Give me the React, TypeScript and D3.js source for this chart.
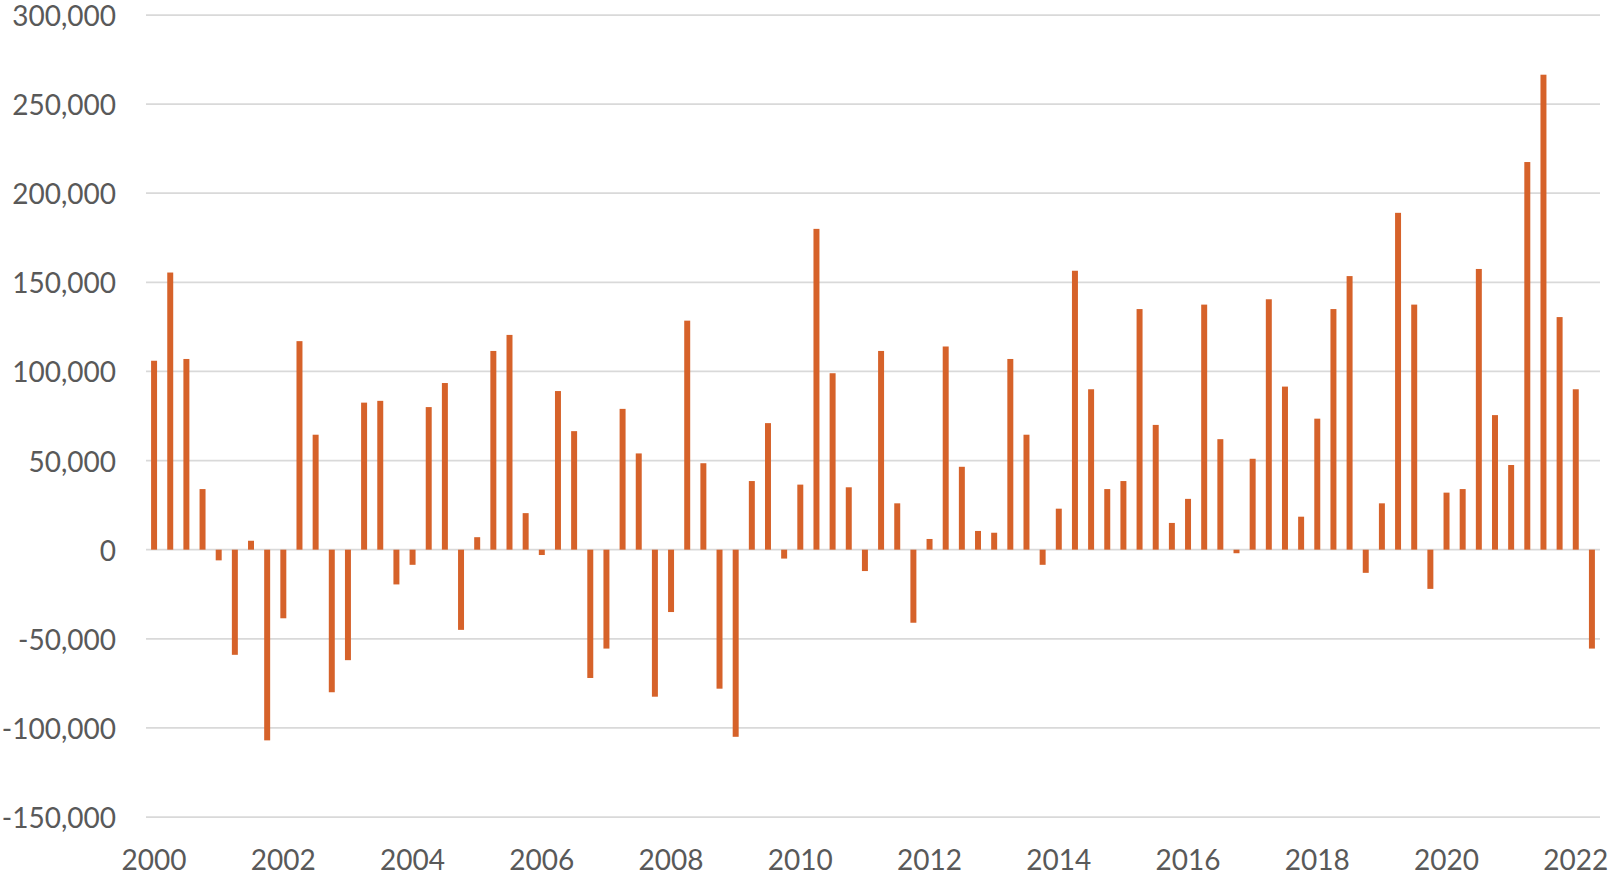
import React from "react";
import * as d3 from "d3";

// Quarterly values, 2000 Q1 – 2022 Q2
const years: number[] = d3.range(2000, 2023);
const quarters: string[] = years.flatMap((y) => [1, 2, 3, 4].map((q) => `${y} Q${q}`)).slice(0, 90);

const values: number[] = [
  106000, 155500, 107000, 34000, -6000, -59000, 5000, -107000,
  -38500, 117000, 64500, -80000, -62000, 82500, 83500, -19500,
  -8500, 80000, 93500, -45000, 7000, 111500, 120500, 20500,
  -3000, 89000, 66500, -72000, -55500, 79000, 54000, -82500,
  -35000, 128500, 48500, -78000, -105000, 38500, 71000, -5000,
  36500, 180000, 99000, 35000, -12000, 111500, 26000, -41000,
  6000, 114000, 46500, 10500, 9500, 107000, 64500, -8500,
  23000, 156500, 90000, 34000, 38500, 135000, 70000, 15000,
  28500, 137500, 62000, -2000, 51000, 140500, 91500, 18500,
  73500, 135000, 153500, -13000, 26000, 189000, 137500, -22000,
  32000, 34000, 157500, 75500, 47500, 217500, 266500, 130500,
  90000, -55500,
];

const yTicks: number[] = [-150000, -100000, -50000, 0, 50000, 100000, 150000, 200000, 250000, 300000];
const xTickLabels: string[] = ["2000", "2002", "2004", "2006", "2008", "2010", "2012", "2014", "2016", "2018", "2020", "2022"];

const W = 1614;
const H = 879;
const left = 146;
const right = 1600;
const top = 15;
const bottom = 817;

export default function App() {
  const x = d3
    .scaleBand<string>()
    .domain(quarters)
    .range([left, right])
    .paddingInner(0.63)
    .paddingOuter(0.315);
  const y = d3.scaleLinear().domain([-150000, 300000]).range([bottom, top]);
  const fmt = d3.formatLocale({ decimal: ".", thousands: ",", grouping: [3], currency: ["", ""], minus: "-" }).format(",");
  const textColor = "#595959";
  const font = "Lato, 'Open Sans', sans-serif";

  return (
    <svg
      width={W}
      height={H}
      style={{ position: "absolute", left: 0, top: 0, display: "block", background: "#fff" }}
    >
      {yTicks.map((t) => (
        <g key={t}>
          <line x1={left} x2={right} y1={y(t)} y2={y(t)} stroke="#D9D9D9" strokeWidth={1.75} />
          <text
            x={116}
            y={y(t)}
            textAnchor="end"
            dominantBaseline="central"
            fontFamily={font}
            fontSize={28}
            fill={textColor}
          >
            {fmt(t)}
          </text>
        </g>
      ))}
      {values.map((v, i) => {
        const q = quarters[i];
        const y0 = y(Math.max(0, v));
        const y1 = y(Math.min(0, v));
        return (
          <rect
            key={q}
            x={x(q)}
            y={y0}
            width={x.bandwidth()}
            height={Math.max(0.5, y1 - y0)}
            fill="#D6622A"
          />
        );
      })}
      {xTickLabels.map((lab) => {
        const q = `${lab} Q1`;
        const cx = (x(q) ?? 0) + x.bandwidth() / 2;
        return (
          <text
            key={lab}
            x={cx}
            y={870}
            textAnchor="middle"
            fontFamily={font}
            fontSize={28}
            fill={textColor}
          >
            {lab}
          </text>
        );
      })}
    </svg>
  );
}
